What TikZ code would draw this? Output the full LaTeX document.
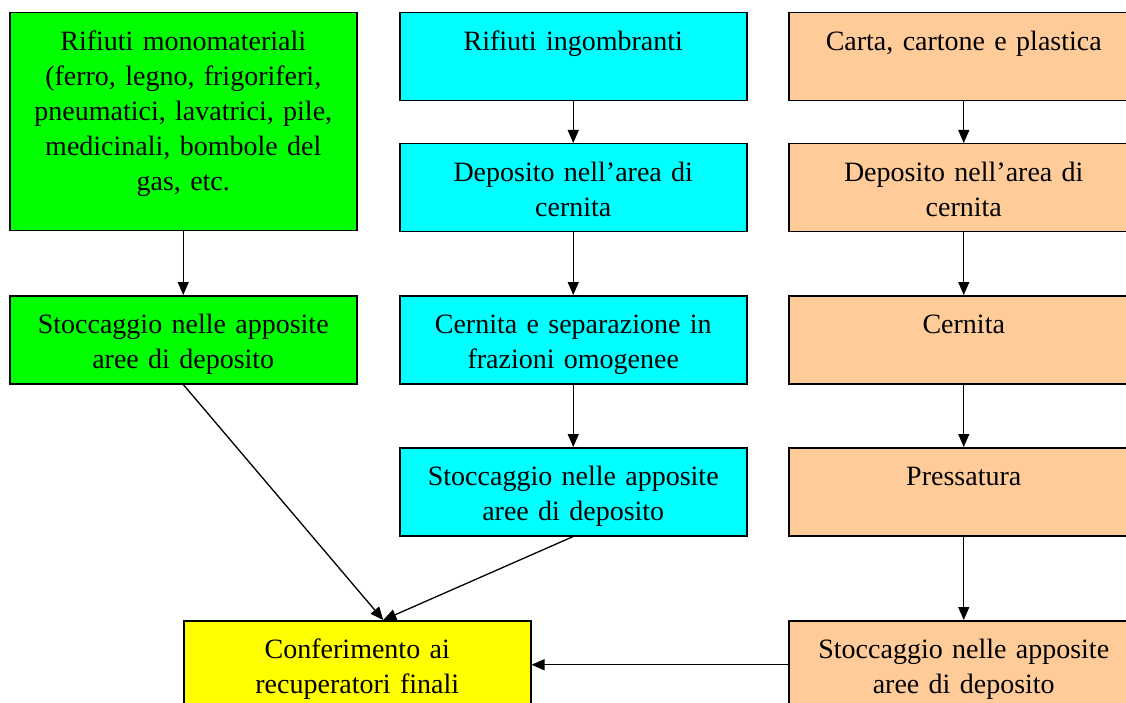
\documentclass[tikz,border=0pt]{standalone}
\usepackage{fontspec}
\usepackage{xcolor}
\usepackage{tikz}
\usetikzlibrary{arrows.meta, positioning, calc}
\setmainfont{Liberation Serif}
\definecolor{wastegreen}{RGB}{0, 255, 0}
\definecolor{wastecyan}{RGB}{0, 255, 255}
\definecolor{wastepeach}{RGB}{255, 204, 153}
\definecolor{wasteyellow}{RGB}{255, 255, 0}
\tikzset{
    flowbox/.style={draw=black, line width=1.5pt, anchor=north west, align=center,
        inner xsep=10pt, inner ysep=12pt, text width=327pt,
        text height=26pt, text depth=38pt,
        font=\fontsize{28}{35}\selectfont},
    greenbox/.style={flowbox, fill=wastegreen},
    cyanbox/.style={flowbox, fill=wastecyan},
    peachbox/.style={flowbox, fill=wastepeach, text width=330pt},
    yellowbox/.style={flowbox, fill=wasteyellow},
    flowarrow/.style={-{Triangle[length=13pt, width=11pt]}, line width=1.3pt}
}

\begin{document}
\begin{tikzpicture}[x=1pt, y=-1pt]
    \clip (0,0) rectangle (1126,703);
    \fill[white] (0,0) rectangle (1126,703);

    % left column
    \node[greenbox, text depth=168pt] (green1) at (9,12) {Rifiuti monomateriali\\(ferro, legno, frigoriferi,\\pneumatici, lavatrici, pile,\\medicinali, bombole del\\gas, etc.};
    \node[greenbox] (green2) at (9,295) {Stoccaggio nelle apposite\\aree di deposito};

    % middle column
    \node[cyanbox] (cyan1) at (399,12) {Rifiuti ingombranti};
    \node[cyanbox] (cyan2) at (399,143) {Deposito nell’area di\\cernita};
    \node[cyanbox] (cyan3) at (399,295) {Cernita e separazione in\\frazioni omogenee};
    \node[cyanbox] (cyan4) at (399,447) {Stoccaggio nelle apposite\\aree di deposito};

    % right column
    \node[peachbox] (peach1) at (788,12) {Carta, cartone e plastica};
    \node[peachbox] (peach2) at (788,143) {Deposito nell’area di\\cernita};
    \node[peachbox] (peach3) at (788,295) {Cernita};
    \node[peachbox] (peach4) at (788,447) {Pressatura};
    \node[peachbox] (peach5) at (788,620) {Stoccaggio nelle apposite\\aree di deposito};

    % final destination
    \node[yellowbox] (final) at (183,620) {Conferimento ai\\recuperatori finali};
    \coordinate (meet) at ($(final.north)+(26,0)$);

    \draw[flowarrow] (green1) -- (green2);
    \draw[flowarrow] (green2.south) -- (meet);
    \draw[flowarrow] (cyan1) -- (cyan2);
    \draw[flowarrow] (cyan2) -- (cyan3);
    \draw[flowarrow] (cyan3) -- (cyan4);
    \draw[flowarrow] (cyan4.south) -- (meet);
    \draw[flowarrow] (peach1) -- (peach2);
    \draw[flowarrow] (peach2) -- (peach3);
    \draw[flowarrow] (peach3) -- (peach4);
    \draw[flowarrow] (peach4) -- (peach5);
    \draw[flowarrow] (peach5.west) -- (final.east);
\end{tikzpicture}
\end{document}
